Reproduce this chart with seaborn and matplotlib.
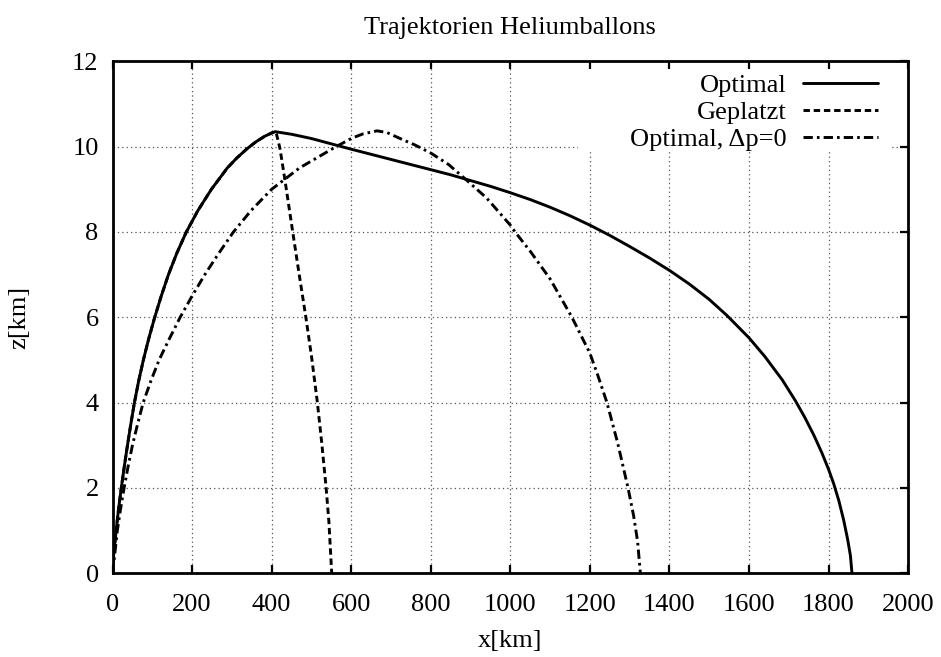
import numpy as np
import pandas as pd
import matplotlib
matplotlib.use("Agg")
import matplotlib.pyplot as plt
from matplotlib.patches import Rectangle
import seaborn as sns

# ---- data ----
asc_x = [0, 1.5, 4, 9, 15, 22, 29.5, 37.5, 46, 55, 65.5, 77.5, 91, 106, 122.5, 140.5,
         161.5, 185.5, 214.5, 248.5, 288.5, 312, 338, 360, 382, 400, 409]
asc_z = [0, 0.3, 0.55, 1.0, 1.5, 2.0, 2.5, 3.0, 3.5, 4.0, 4.5, 5.0, 5.5, 6.0, 6.5, 7.0,
         7.5, 8.0, 8.5, 9.0, 9.5, 9.73, 9.95, 10.11, 10.24, 10.32, 10.35]

opt_desc_x = [450, 500, 564, 600, 650, 700, 750, 800, 850, 887, 950, 1000, 1050, 1100,
              1150, 1200, 1250, 1300, 1350, 1400, 1450, 1500, 1545, 1600, 1640, 1684,
              1717, 1740, 1763, 1783, 1800, 1813, 1826, 1838, 1848, 1855, 1859]
opt_desc_z = [10.29, 10.19, 10.03, 9.94, 9.82, 9.70, 9.58, 9.46, 9.34, 9.24, 9.07, 8.92,
              8.76, 8.58, 8.38, 8.16, 7.92, 7.66, 7.39, 7.10, 6.78, 6.42, 6.04, 5.52,
              5.08, 4.53, 4.04, 3.66, 3.24, 2.83, 2.44, 2.10, 1.70, 1.25, 0.80, 0.42, 0.0]

burst_desc_x = [412, 416, 421, 427, 434, 443, 453, 468, 486, 500, 515, 526, 537, 544, 551]
burst_desc_z = [10.3, 10.15, 9.95, 9.6, 9.18, 8.62, 8.0, 7.08, 6.0, 5.1, 4.0, 3.05, 2.0, 1.2, 0.0]

dp0_x = [0, 5, 12, 20, 29, 39, 50, 63, 77, 96, 117, 143, 170, 200, 232, 267, 304, 348,
         400, 470, 562, 602, 630, 665, 690, 723, 760, 800, 845, 887, 940, 1000, 1012,
         1050, 1100, 1155, 1200, 1220, 1243, 1270, 1296, 1310, 1320, 1327]
dp0_z = [0, 0.4, 1.0, 1.5, 2.0, 2.5, 3.0, 3.5, 4.0, 4.5, 5.0, 5.5, 6.0, 6.5, 7.0, 7.5,
         8.0, 8.5, 9.0, 9.5, 10.0, 10.2, 10.3, 10.37, 10.33, 10.19, 10.04, 9.85, 9.58,
         9.24, 8.8, 8.16, 8.0, 7.55, 6.9, 6.0, 5.16, 4.64, 4.0, 3.05, 2.0, 1.35, 0.75, 0.0]

opt_x = asc_x + opt_desc_x
opt_z = asc_z + opt_desc_z
burst_x = asc_x + burst_desc_x
burst_z = asc_z + burst_desc_z

labels = ["Optimal", "Geplatzt", "Optimal, \u0394p=0"]
x_ticks = list(range(0, 2001, 200))
y_ticks = list(range(0, 13, 2))

# ---- style ----
sns.set_theme(style="white")
plt.rcParams["font.family"] = ["Liberation Serif", "DejaVu Serif"]
plt.rcParams["text.color"] = "black"
plt.rcParams["axes.labelcolor"] = "black"
plt.rcParams["xtick.color"] = "black"
plt.rcParams["ytick.color"] = "black"
FS = 19

fig = plt.figure(figsize=(9.41, 6.57), dpi=100)
ax = fig.add_axes([0.1196, 0.1274, 0.965 - 0.1196, 0.9067 - 0.1274])

lw = 2.1
df_opt = pd.DataFrame({"x": opt_x, "z": opt_z})
df_burst = pd.DataFrame({"x": burst_x, "z": burst_z})
df_dp0 = pd.DataFrame({"x": dp0_x, "z": dp0_z})

sns.lineplot(data=df_opt, x="x", y="z", sort=False, estimator=None, ax=ax,
             color="black", linewidth=lw, label=labels[0])
sns.lineplot(data=df_burst, x="x", y="z", sort=False, estimator=None, ax=ax,
             color="black", linewidth=lw, label=labels[1])
sns.lineplot(data=df_dp0, x="x", y="z", sort=False, estimator=None, ax=ax,
             color="black", linewidth=lw, label=labels[2])
lines = ax.get_lines()
lines[1].set_dashes([2.2, 1.3])
lines[2].set_dashes([3.2, 1.4, 0.9, 1.4])
for ln in lines:
    ln.set_solid_joinstyle("round")
    ln.set_dash_joinstyle("round")

ax.set_xlim(0, 2000)
ax.set_ylim(0, 12)
ax.set_xticks(x_ticks)
ax.set_yticks(y_ticks)
ax.tick_params(axis="both", which="major", direction="in", length=6, width=1.6,
               labelsize=FS, colors="black", top=True, right=True)
ax.tick_params(axis="x", pad=15)
ax.tick_params(axis="y", pad=10)
ax.grid(True, color="#555555", linestyle=(0, (1, 2.5)), linewidth=0.9)
for s in ax.spines.values():
    s.set_visible(True)
    s.set_color("black")
    s.set_linewidth(2.0)

ax.set_xlabel("x[km]", fontsize=FS, labelpad=10, color="black")
ax.set_ylabel("z[km]", fontsize=FS, labelpad=30, color="black")
ax.set_title("Trajektorien Heliumballons", fontsize=FS, pad=20, color="black")

# white key area hiding the grid behind the legend (as in the reference)
ax.add_patch(Rectangle((0.585, 0.823), 0.977 - 0.585, 1.0 - 0.823, transform=ax.transAxes,
                       facecolor="white", edgecolor="none", zorder=1))

leg = ax.legend(loc="upper right", bbox_to_anchor=(0.972, 0.992), markerfirst=False,
                frameon=False, fontsize=FS, handlelength=2.85, handletextpad=0.6,
                labelspacing=0.14, borderpad=0.3, borderaxespad=0.0)
for col in leg._legend_handle_box.get_children():
    col.align = "right"
for t in leg.get_texts():
    t.set_color("black")

# top ticks drawn above the key area
ax2 = ax.twiny()
ax2.set_xlim(ax.get_xlim())
ax2.set_xticks(x_ticks)
ax2.tick_params(axis="x", direction="in", length=6, width=1.6, labeltop=False, top=True,
                colors="black")
ax2.patch.set_visible(False)
for s in ax2.spines.values():
    s.set_visible(False)

fig.savefig("out.png", dpi=100)
